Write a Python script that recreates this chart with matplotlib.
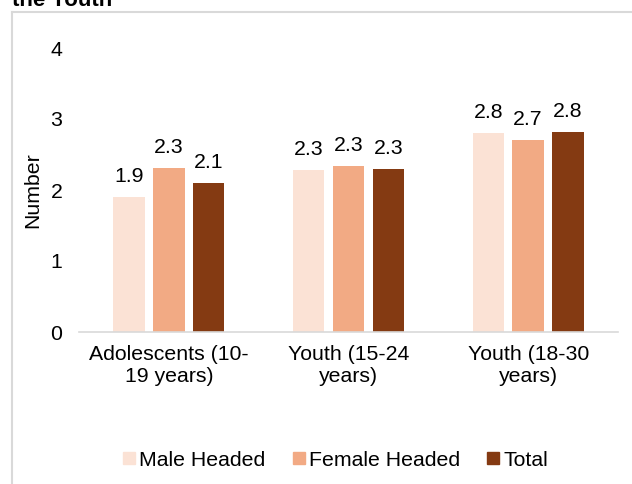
import matplotlib
matplotlib.use("Agg")
import matplotlib.pyplot as plt
import numpy as np
from matplotlib.lines import Line2D

plt.rcParams['font.family'] = ['Liberation Sans', 'DejaVu Sans']

categories = ["Adolescents (10-\n19 years)", "Youth (15-24\nyears)", "Youth (18-30\nyears)"]
series_names = ["Male Headed", "Female Headed", "Total"]
male = [1.90, 2.28, 2.80]
female = [2.31, 2.34, 2.70]
total = [2.10, 2.30, 2.81]
colors = ["#FBE2D5", "#F2AA84", "#843A12"]
yticks = [0, 1, 2, 3, 4]

fig = plt.figure(figsize=(6.32, 4.84), dpi=100)
ax = fig.add_axes([79/632, 1-332/484, (618-79)/632, (332-48)/484])

x = np.arange(len(categories))
w = 0.175
pitch = 0.222
fs = 15.3
for i, (vals, c, name) in enumerate(zip([male, female, total], colors, series_names)):
    pos = x + (i - 1) * pitch
    bars = ax.bar(pos, vals, width=w, color=c, label=name)
    for b, v in zip(bars, vals):
        ax.annotate(f"{v:.1f}", (b.get_x() + b.get_width()/2, v), xytext=(0, 8),
                    textcoords="offset points", ha="center", va="bottom", fontsize=fs, color="#000000")

ax.set_xlim(-0.5, 2.5)
ax.set_ylim(0, 4)
ax.set_yticks(yticks)
ax.set_xticks(x)
ax.set_xticklabels(categories, fontsize=fs)
ax.tick_params(axis='y', length=0, labelsize=fs, pad=12)
ax.tick_params(axis='x', length=0, pad=9)
for s in ['top', 'right', 'left']:
    ax.spines[s].set_visible(False)
ax.spines['bottom'].set_color('#D9D9D9')
ax.spines['bottom'].set_linewidth(1.2)
ax.set_ylabel("Number", fontsize=fs, labelpad=6)

handles = [Line2D([0], [0], marker='s', linestyle='none', markersize=8,
                  markerfacecolor=c, markeredgecolor=c) for c in colors]
fig.legend(handles, series_names, loc='center', bbox_to_anchor=(335/632, 1-460/484),
           ncol=3, frameon=False, fontsize=fs, handletextpad=0.15, columnspacing=1.2,
           handlelength=0.7)

# outer frame
fig.add_artist(Line2D([12/632, 1.0], [1-12/484, 1-12/484], color='#D9D9D9', lw=1.5,
                      transform=fig.transFigure))
fig.add_artist(Line2D([12/632, 12/632], [0, 1-12/484], color='#D9D9D9', lw=1.5,
                      transform=fig.transFigure))

fig.text(12/632, 1-6/484, "the Youth", fontsize=16, fontweight='bold', ha='left', va='baseline')

fig.savefig("out.png", dpi=100)
